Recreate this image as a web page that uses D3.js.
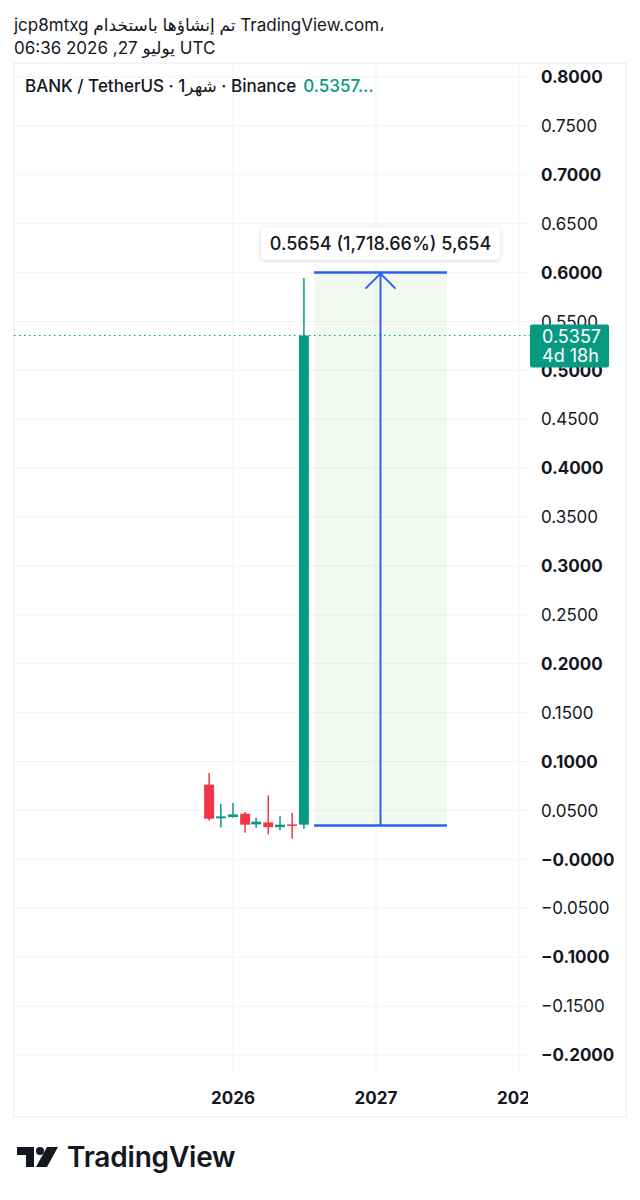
<!DOCTYPE html>
<html>
<head>
<meta charset="utf-8">
<script src="https://cdn.jsdelivr.net/npm/d3@7"></script>
<style>
  body { margin: 0; background: #fff; }
  svg { display: block; font-family: Inter, "Noto Sans", "DejaVu Sans", sans-serif; }
</style>
</head>
<body>
<div id="vizContainer"></div>
<script>
let w = 640;
let h = 1200;

// monthly candles
let months = ["2025-11-01", "2025-12-01", "2026-01-01", "2026-02-01", "2026-03-01", "2026-04-01", "2026-05-01", "2026-06-01", "2026-07-01"];
let opens  = [0.0764, 0.0420, 0.0433, 0.0467, 0.0358, 0.0378, 0.0330, 0.0358, 0.0355];
let highs  = [0.0883, 0.0570, 0.0576, 0.0484, 0.0426, 0.0654, 0.0440, 0.0477, 0.5946];
let lows   = [0.0399, 0.0330, 0.0426, 0.0273, 0.0324, 0.0256, 0.0297, 0.0212, 0.0314];
let closes = [0.0416, 0.0440, 0.0460, 0.0355, 0.0385, 0.0330, 0.0355, 0.0352, 0.5357];

let priceTicks = [0.8, 0.75, 0.7, 0.65, 0.6, 0.55, 0.5, 0.45, 0.4, 0.35, 0.3, 0.25, 0.2, 0.15, 0.1, 0.05, 0, -0.05, -0.1, -0.15, -0.2];
let yearTicks = ["2026-01-01", "2027-01-01", "2028-01-01"];

let lastPrice = 0.5357;
let countdown = "4d 18h";
let measureFrom = ["2026-07-27", 0.0346];
let measureTo = ["2027-07-01", 0.6000];
let measureText = "0.5654 (1,718.66%) 5,654";

let headerLine1 = "jcp8mtxg تم إنشاؤها باستخدام TradingView.com،";
let headerLine2 = "06:36 2026 ,27 يوليو UTC";
let titleText = "BANK / TetherUS · 1شهر · Binance";

let up = "#089981", down = "#f23645", blue = "#2f5ff0", ink = "#131722";

let parse = d3.utcParse("%Y-%m-%d");
let candles = months.map((m, i) => ({ t: parse(m), o: opens[i], h: highs[i], l: lows[i], c: closes[i] }));

let frameL = 14, frameR = 626, frameT = 63, frameB = 1117;
let plotR = 528, plotB = 1075;

let xScale = d3.scaleUtc().domain([parse("2026-01-01"), parse("2027-01-01")]).range([233, 376]);
let yScale = d3.scaleLinear().domain([-0.2, 0.8]).range([1055, 77]);

let viz = d3.select("#vizContainer").append("svg")
  .attr("width", w)
  .attr("height", h);

let defs = viz.append("defs");
defs.append("clipPath").attr("id", "plotClip")
  .append("rect").attr("x", frameL).attr("y", frameT).attr("width", plotR - frameL).attr("height", h);
let shadow = defs.append("filter").attr("id", "shadow").attr("x", "-20%").attr("y", "-50%").attr("width", "140%").attr("height", "200%");
shadow.append("feDropShadow").attr("dx", 0).attr("dy", 1).attr("stdDeviation", 2.5).attr("flood-color", "#000").attr("flood-opacity", 0.18);

// header
viz.append("text").attr("x", 14).attr("y", 31).attr("font-size", 17).attr("fill", ink)
  .attr("direction", "ltr").text(headerLine1);
viz.append("text").attr("x", 14).attr("y", 54).attr("font-size", 17).attr("fill", ink)
  .attr("direction", "ltr").text(headerLine2);

// frame
viz.append("rect")
  .attr("x", frameL).attr("y", frameT)
  .attr("width", frameR - frameL).attr("height", frameB - frameT)
  .attr("fill", "none").attr("stroke", "#f0f1f3").attr("stroke-width", 1.5);

// grid
let grid = viz.append("g");
grid.selectAll(".hgrid").data(priceTicks).enter().append("line")
  .attr("class", "hgrid")
  .attr("x1", frameL).attr("x2", plotR)
  .attr("y1", d => yScale(d)).attr("y2", d => yScale(d))
  .attr("stroke", "#f2f3f5").attr("stroke-width", 1);
grid.selectAll(".vgrid").data(yearTicks).enter().append("line")
  .attr("class", "vgrid")
  .attr("x1", d => xScale(parse(d))).attr("x2", d => xScale(parse(d)))
  .attr("y1", frameT).attr("y2", plotB)
  .attr("stroke", "#f2f3f5").attr("stroke-width", 1);

// measure tool
let mx1 = xScale(parse(measureFrom[0])), mx2 = xScale(parse(measureTo[0]));
let my1 = yScale(measureFrom[1]), my2 = yScale(measureTo[1]);
let mxc = (mx1 + mx2) / 2;
let measure = viz.append("g");
measure.append("rect")
  .attr("x", mx1).attr("y", my2).attr("width", mx2 - mx1).attr("height", my1 - my2)
  .attr("fill", "rgba(76,175,80,0.08)");
measure.selectAll(".mline").data([my1, my2]).enter().append("line")
  .attr("x1", mx1).attr("x2", mx2).attr("y1", d => d).attr("y2", d => d)
  .attr("stroke", blue).attr("stroke-width", 2.5);
measure.append("line")
  .attr("x1", mxc).attr("x2", mxc).attr("y1", my1).attr("y2", my2)
  .attr("stroke", blue).attr("stroke-width", 2);
measure.append("path")
  .attr("d", `M${mxc - 15},${my2 + 16} L${mxc},${my2 + 1} L${mxc + 15},${my2 + 16}`)
  .attr("fill", "none").attr("stroke", blue).attr("stroke-width", 2);

// last price dotted line
viz.append("line")
  .attr("x1", frameL).attr("x2", 530)
  .attr("y1", yScale(lastPrice)).attr("y2", yScale(lastPrice))
  .attr("stroke", up).attr("stroke-width", 1).attr("stroke-dasharray", "1.5,3.5");

// candles
let step = xScale(parse("2026-02-01")) - xScale(parse("2026-01-01"));
let bw = step * 0.82;
let candleGroup = viz.append("g").attr("clip-path", "url(#plotClip)");
let cs = candleGroup.selectAll(".candle").data(candles).enter().append("g").attr("class", "candle");
cs.append("line")
  .attr("x1", d => xScale(d.t)).attr("x2", d => xScale(d.t))
  .attr("y1", d => yScale(d.h)).attr("y2", d => yScale(d.l))
  .attr("stroke", d => d.c >= d.o ? up : down).attr("stroke-width", 1.5);
cs.append("rect")
  .attr("x", d => xScale(d.t) - bw / 2)
  .attr("y", d => yScale(Math.max(d.o, d.c)))
  .attr("width", bw)
  .attr("height", d => Math.max(1.5, Math.abs(yScale(d.o) - yScale(d.c))))
  .attr("fill", d => d.c >= d.o ? up : down);

// measure label
let lbl = viz.append("g");
let lblW = 239, lblH = 32;
lbl.append("rect")
  .attr("x", mxc - lblW / 2).attr("y", my2 - 45).attr("width", lblW).attr("height", lblH)
  .attr("rx", 5).attr("fill", "#fff").attr("filter", "url(#shadow)");
lbl.append("text")
  .attr("x", mxc).attr("y", my2 - 29).attr("dy", "0.35em")
  .attr("text-anchor", "middle").attr("font-size", 18).attr("font-weight", 500).attr("fill", ink)
  .text(measureText);

// title
let title = viz.append("text").attr("x", 25).attr("y", 92).attr("font-size", 17).attr("font-weight", 500).attr("fill", ink)
  .attr("direction", "ltr");
title.append("tspan").text(titleText);
title.append("tspan").attr("fill", up).attr("dx", 7).text(d3.format(".4f")(lastPrice) + "...");

// price axis
let fmt = v => {
  let s = d3.format(".4f")(Math.abs(v));
  if (v < 0 || Object.is(v, 0)) return "\u2212" + s;
  return s;
};
viz.append("g").selectAll(".plabel").data(priceTicks).enter().append("text")
  .attr("class", "plabel")
  .attr("x", 541).attr("y", d => yScale(d)).attr("dy", "0.36em")
  .attr("font-size", 17)
  .attr("font-weight", (d, i) => i % 2 === 0 ? 700 : 400)
  .attr("fill", ink)
  .text(d => fmt(d));

// last price tag
let tagY = yScale(lastPrice);
viz.append("rect").attr("x", 530).attr("y", tagY - 11).attr("width", 79).attr("height", 43).attr("rx", 2).attr("fill", up);
viz.append("text").attr("x", 542).attr("y", tagY + 1).attr("dy", "0.35em").attr("font-size", 18).attr("fill", "#fff")
  .text(d3.format(".4f")(lastPrice));
viz.append("text").attr("x", 542).attr("y", tagY + 20).attr("dy", "0.35em").attr("font-size", 18).attr("fill", "#fff")
  .text(countdown);

// time axis
viz.append("g").attr("clip-path", "url(#plotClip)")
  .selectAll(".tlabel").data(yearTicks).enter().append("text")
  .attr("x", d => xScale(parse(d))).attr("y", 1098).attr("dy", "0.35em")
  .attr("text-anchor", "middle").attr("font-size", 17).attr("font-weight", 700).attr("fill", ink)
  .text(d => d.slice(0, 4));

// logo
let logo = viz.append("g").attr("fill", "#131722");
logo.append("path").attr("d", "M17,1147 H34 V1167 H26 V1155 H17 Z");
logo.append("circle").attr("cx", 40).attr("cy", 1151).attr("r", 4);
logo.append("path").attr("d", "M47,1147 H58 L47,1167 H36 Z");
logo.append("text").attr("x", 67).attr("y", 1167).attr("font-size", 28).attr("font-weight", 600)
  .attr("letter-spacing", -0.2).text("TradingView");
</script>
</body>
</html>
